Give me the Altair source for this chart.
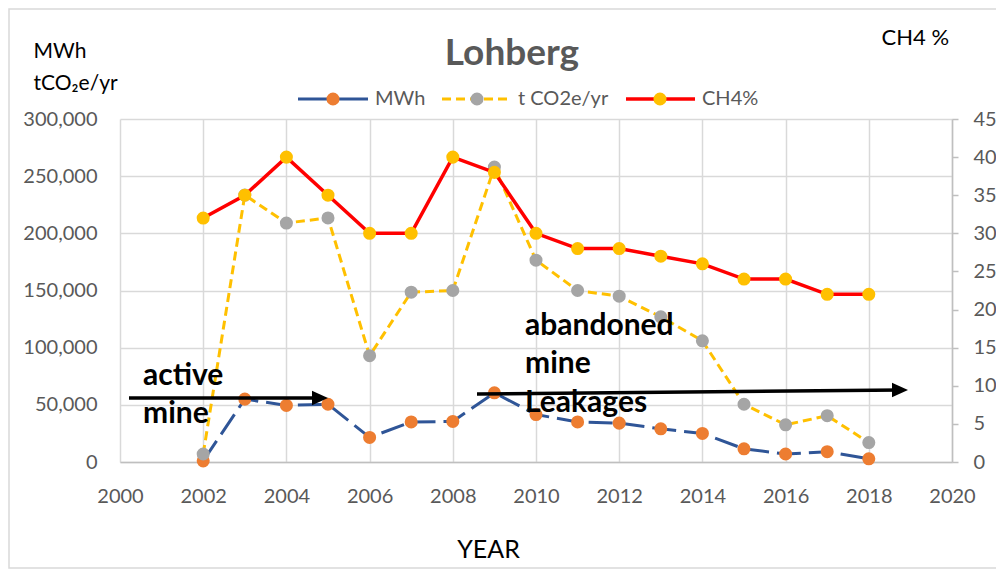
import altair as alt
import pandas as pd

# ---- data ----
years = list(range(2002, 2019))
mwh = [1000, 55000, 49500, 50500, 21500, 35000, 35500, 60500, 41500, 35000,
       34000, 29000, 25000, 11500, 7000, 9000, 2800]
co2 = [7000, 233500, 209000, 213500, 93000, 148500, 150000, 258000, 176500,
       150000, 145000, 127000, 106000, 50500, 32500, 40500, 17000]
ch4 = [32, 35, 40, 35, 30, 30, 40, 38, 30, 28, 28, 27, 26, 24, 24, 22, 22]
series_names = ["MWh", "t CO2e/yr", "CH4%"]
x_ticks = list(range(2000, 2021, 2))
left_ticks = list(range(0, 300001, 50000))
right_ticks = list(range(0, 46, 5))
chart_title = "Lohberg"
left_title = ["MWh", "tCO\u2082e/yr"]
right_title = "CH4 %"
x_title = "YEAR"
active_text = ["active", "mine"]
abandoned_text = ["abandoned", "mine", "Leakages"]

# ---- styles ----
FONT = "Lato"
LAB = "#595959"
GRID = "#D9D9D9"
AXL = "#BFBFBF"
BLUE = "#2F5597"
ORANGE = "#ED7D31"
GRAY = "#A5A5A5"
YELLOW = "#FFC000"
RED = "#FF0000"
MSIZE = 170

df = pd.DataFrame({"year": years, "mwh": mwh, "co2": co2, "ch4": ch4})
base = alt.Chart(df)

xenc = alt.X(
    "year:Q",
    scale=alt.Scale(domain=[2000, 2020], nice=False, zero=False),
    axis=alt.Axis(
        values=x_ticks, format="d", grid=True, gridColor=GRID, gridWidth=1.5,
        domainColor=AXL, domainWidth=1.5, ticks=False, labelPadding=24,
        labelFontSize=20, labelColor=LAB, labelFont=FONT, labelFlush=False,
        labelOverlap=False,
        title=x_title, titleFont=FONT, titleFontSize=25, titleFontWeight="normal",
        titleColor="black", titleX=368, titleY=95, titleBaseline="alphabetic",
        titleAlign="center",
    ),
)

yl_scale = alt.Scale(domain=[0, 300000], nice=False)
yl_axis = alt.Axis(
    values=left_ticks, format=",.0f", grid=True, gridColor=GRID, gridWidth=1.5,
    domain=False, ticks=False, labelPadding=23, labelFontSize=20,
    labelColor=LAB, labelFont=FONT,
    title=left_title, titleAngle=0, titleX=-87, titleY=-62, titleAlign="left",
    titleBaseline="alphabetic", titleFont=FONT, titleFontSize=21,
    titleFontWeight="normal", titleColor="black", titleLineHeight=32,
)

def yl(field):
    return alt.Y(f"{field}:Q", scale=yl_scale, axis=yl_axis)

yr = alt.Y(
    "ch4:Q",
    scale=alt.Scale(domain=[0, 45], nice=False),
    axis=alt.Axis(
        orient="right", values=right_ticks, grid=False, domain=True,
        domainColor=AXL, domainWidth=1.5, ticks=True, tickSize=6,
        tickColor=AXL, tickWidth=1.5, labelPadding=15, labelFontSize=20,
        labelColor=LAB, labelFont=FONT,
        title=right_title, titleAngle=0, titleX=-71, titleY=-75,
        titleAlign="left", titleBaseline="alphabetic", titleFont=FONT,
        titleFontSize=22, titleFontWeight="normal", titleColor="black",
    ),
)

mwh_line = base.mark_line(color=BLUE, strokeWidth=3, strokeDash=[24, 8]).encode(x=xenc, y=yl("mwh"))
mwh_pts = base.mark_circle(color=ORANGE, size=MSIZE, opacity=1).encode(x=xenc, y=yl("mwh"))
co2_line = base.mark_line(color=YELLOW, strokeWidth=3, strokeDash=[9, 5]).encode(x=xenc, y=yl("co2"))
co2_pts = base.mark_circle(color=GRAY, size=MSIZE, opacity=1).encode(x=xenc, y=yl("co2"))
ch4_line = base.mark_line(color=RED, strokeWidth=3.5).encode(x=xenc, y=yr)
ch4_pts = base.mark_circle(color=YELLOW, size=MSIZE, opacity=1).encode(x=xenc, y=yr)

one = pd.DataFrame({"k": [0]})

def txt(s, x, y, size, color, bold=False, align="left", baseline="alphabetic"):
    return alt.Chart(pd.DataFrame({"t": [s]})).mark_text(
        font=FONT, fontSize=size, color=color, fontWeight="bold" if bold else "normal",
        align=align, baseline=baseline,
    ).encode(x=alt.value(x), y=alt.value(y), text="t:N")

def hrule(x1, x2, y1, y2, color, width, dash=None):
    kw = dict(color=color, strokeWidth=width)
    if dash:
        kw["strokeDash"] = dash
    return alt.Chart(one).mark_rule(**kw).encode(
        x=alt.value(x1), x2=alt.value(x2), y=alt.value(y1), y2=alt.value(y2))

def dot(x, y, color, size=MSIZE, shape="circle"):
    return alt.Chart(one).mark_point(
        shape=shape, filled=True, color=color, size=size, opacity=1, strokeWidth=0
    ).encode(x=alt.value(x), y=alt.value(y))

# border around whole chart
border = alt.Chart(one).mark_rect(fill="white", fillOpacity=0, stroke=GRID, strokeWidth=1.5).encode(
    x=alt.value(-111), x2=alt.value(878), y=alt.value(-110), y2=alt.value(449))

# title
title = txt(chart_title, 392, -54, 37, LAB, bold=True, align="center")

# legend
LY = -20
legend = [
    hrule(178, 248, LY, LY, BLUE, 3), dot(213, LY, ORANGE),
    txt(series_names[0], 255, LY, 20, LAB, baseline="middle"),
    hrule(322, 392, LY, LY, YELLOW, 3, [9, 5]), dot(357, LY, GRAY),
    txt(series_names[1], 398, LY, 20, LAB, baseline="middle"),
    hrule(506, 575, LY, LY, RED, 3.5), dot(540, LY, YELLOW),
    txt(series_names[2], 582, LY, 20, LAB, baseline="middle"),
]

# annotations
TRI = "M-1,-0.9L1,0L-1,0.9Z"
annot = [
    hrule(9, 200, 279, 279, "black", 3.5),
    dot(200, 279, "black", size=256, shape=TRI),
    hrule(357, 781, 275, 271, "black", 3.5),
    dot(780, 271, "black", size=256, shape=TRI),
    txt(active_text[0], 23, 266, 30, "black", bold=True),
    txt(active_text[1], 23, 304, 30, "black", bold=True),
    txt(abandoned_text[0], 405, 216, 30, "black", bold=True),
    txt(abandoned_text[1], 405, 254, 30, "black", bold=True),
    txt(abandoned_text[2], 405, 293, 30, "black", bold=True),
]

left = alt.layer(mwh_line, mwh_pts, co2_line, co2_pts, *annot)
right = alt.layer(ch4_line, ch4_pts)
extras = alt.layer(border, title, *legend)

chart = alt.layer(left, right, extras).resolve_scale(y="independent").properties(
    width=832, height=343,
    padding={"left": 112, "top": 111, "right": 44, "bottom": 108},
    autosize=alt.AutoSizeParams(type="none"),
).configure_view(stroke=None)

chart.save("out.html", embed_options={"renderer": "svg", "actions": False})
